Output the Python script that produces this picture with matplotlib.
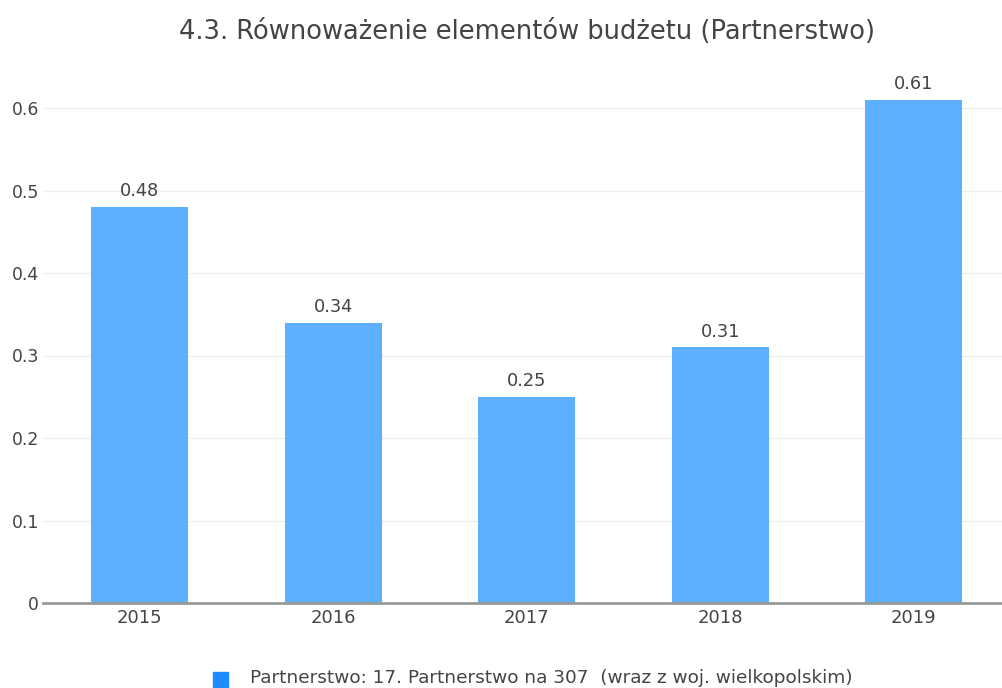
import numpy as np
import matplotlib.pyplot as plt

plt.rcParams['font.family'] = ['DejaVu Sans']

# dane: rok i wartość wskaźnika
lata = ['2015', '2016', '2017', '2018', '2019']
wartosci = [0.48, 0.34, 0.25, 0.31, 0.61]
tytul = '4.3. Równoważenie elementów budżetu (Partnerstwo)'
seria = 'Partnerstwo: 17. Partnerstwo na 307  (wraz z woj. wielkopolskim)'

kolor_tekstu = '#444444'
kolor_slupka = '#5cb0ff'

fig = plt.figure(figsize=(10.02, 6.88), dpi=100)
ax = fig.add_axes([43 / 1002, 85 / 688, 967.5 / 1002, 0.66 * 825 / 688])

x = np.arange(len(lata))
slupki = ax.bar(x, wartosci, width=0.5, color=kolor_slupka, zorder=2)

for xi, v in zip(x, wartosci):
    ax.text(xi, v + 0.008, f'{v:.2f}', ha='center', va='bottom',
            fontsize=12.8, color=kolor_tekstu)

ax.set_xlim(-0.5, 4.5)
ax.set_ylim(0, 0.66)
ax.set_xticks(x)
ax.set_xticklabels(lata)
ax.set_yticks([0, 0.1, 0.2, 0.3, 0.4, 0.5, 0.6])
ax.set_yticklabels(['0', '0.1', '0.2', '0.3', '0.4', '0.5', '0.6'])
ax.tick_params(axis='y', labelsize=12.4, labelcolor=kolor_tekstu, length=0, pad=3)
ax.tick_params(axis='x', labelsize=13, labelcolor=kolor_tekstu, length=0, pad=4)

ax.grid(axis='y', color='#eeeeee', linewidth=1, zorder=0)
for s in ['top', 'right', 'left']:
    ax.spines[s].set_visible(False)
ax.spines['bottom'].set_color('#999999')
ax.spines['bottom'].set_linewidth(2)
ax.spines['bottom'].set_zorder(3)

fig.text(527 / 1002, 1 - 32 / 688, tytul, ha='center', va='center',
         fontsize=18.5, color=kolor_tekstu)

# legenda pod wykresem
fig.patches.append(plt.Rectangle((213 / 1002, 0), 15 / 1002, 16 / 688,
                                 transform=fig.transFigure, color='#1a8cff'))
fig.text(250 / 1002, 1 - 678 / 688, seria, ha='left', va='center',
         fontsize=13.3, color=kolor_tekstu)

fig.savefig('out.png', dpi=100)
